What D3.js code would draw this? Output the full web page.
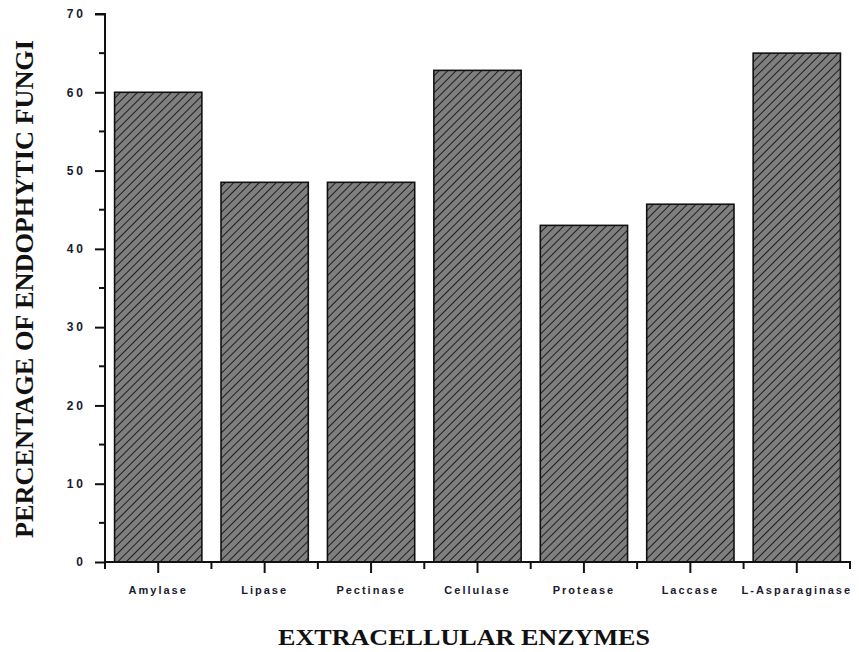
<!DOCTYPE html>
<html><head><meta charset="utf-8">
<script src="https://cdn.jsdelivr.net/npm/d3@7"></script>
<style>body{margin:0;background:#fff;}svg{display:block;}</style>
</head><body>
<script>
const categories = ["Amylase","Lipase","Pectinase","Cellulase","Protease","Laccase","L-Asparaginase"];
const values = [60, 48.5, 48.5, 62.8, 43, 45.7, 65];
const yTicks = [0,10,20,30,40,50,60,70];
const yTitle = "PERCENTAGE OF ENDOPHYTIC FUNGI";
const xTitle = "EXTRACELLULAR ENZYMES";

const W = 859, H = 652;
const svg = d3.select("body").append("svg").attr("width", W).attr("height", H);

const defs = svg.append("defs");
const pat = defs.append("pattern").attr("id","hatch").attr("patternUnits","userSpaceOnUse")
  .attr("width",6).attr("height",6).attr("patternTransform","rotate(45)");
pat.append("rect").attr("width",6).attr("height",6).attr("fill","#7f7f7f");
pat.append("line").attr("x1",0).attr("y1",0).attr("x2",0).attr("y2",6).attr("stroke","#111").attr("stroke-width",1.8);

const x0 = 105, x1 = 850, yTop = 14, yBot = 562;
const x = d3.scaleBand().domain(categories).range([x0, x1]).paddingInner(0.18).paddingOuter(0.09);
const y = d3.scaleLinear().domain([0,70]).range([yBot, yTop]);

// bars
svg.append("g").selectAll("rect").data(categories).join("rect")
  .attr("x", d => x(d)).attr("width", x.bandwidth())
  .attr("y", (d,i) => y(values[i])).attr("height", (d,i) => y(0) - y(values[i]))
  .attr("fill","url(#hatch)").attr("stroke","#111").attr("stroke-width",1.6);

// y axis
const yAxis = d3.axisLeft(y).tickValues(yTicks).tickSize(10).tickPadding(9).tickFormat(d3.format("d"));
const gy = svg.append("g").attr("transform",`translate(${x0},0)`).call(yAxis);
gy.select(".domain").attr("stroke","#111").attr("stroke-width",2).attr("d",`M-10,${yTop}H0V${yBot}`);
gy.selectAll(".tick line").attr("stroke","#111").attr("stroke-width",2);
gy.selectAll(".tick text").attr("font-family","Liberation Sans, Arial, sans-serif").attr("font-weight","bold")
  .attr("font-size",12).attr("letter-spacing","3px").attr("fill","#1a1a2e");
// minor y ticks
const yMinor = d3.range(5,70,10);
svg.append("g").selectAll("line").data(yMinor).join("line")
  .attr("x1",x0-6).attr("x2",x0).attr("y1",d=>y(d)).attr("y2",d=>y(d))
  .attr("stroke","#111").attr("stroke-width",2);

// x axis
const xAxis = d3.axisBottom(x).tickSize(11).tickPadding(13);
const gx = svg.append("g").attr("transform",`translate(0,${yBot})`).call(xAxis);
gx.select(".domain").attr("stroke","#111").attr("stroke-width",2).attr("d",`M${x0},0H${x1}V6`);
gx.selectAll(".tick line").attr("stroke","#111").attr("stroke-width",2);
gx.selectAll(".tick text").attr("font-family","Liberation Sans, Arial, sans-serif").attr("font-weight","bold")
  .attr("font-size",11).attr("letter-spacing","2px").attr("fill","#1a1a2e");
// minor x ticks at band boundaries
const step = x.step();
const bounds = categories.map(c => x(c) + x.bandwidth()/2 - step/2).concat([x(categories[categories.length-1]) + x.bandwidth()/2 + step/2]);
svg.append("g").selectAll("line").data(bounds).join("line")
  .attr("x1",d=>d).attr("x2",d=>d).attr("y1",yBot).attr("y2",yBot+7)
  .attr("stroke","#111").attr("stroke-width",2);

// titles
svg.append("text").attr("transform","translate(33,289) rotate(-90)")
  .attr("text-anchor","middle").attr("font-family","Liberation Serif, Times New Roman, serif")
  .attr("font-weight","bold").attr("font-size",26).attr("fill","#111")
  .attr("textLength",498).attr("lengthAdjust","spacingAndGlyphs").text(yTitle);
svg.append("text").attr("x",464).attr("y",645)
  .attr("text-anchor","middle").attr("font-family","Liberation Serif, Times New Roman, serif")
  .attr("font-weight","bold").attr("font-size",24).attr("fill","#111")
  .attr("textLength",372).attr("lengthAdjust","spacingAndGlyphs").text(xTitle);
</script>
</body></html>
